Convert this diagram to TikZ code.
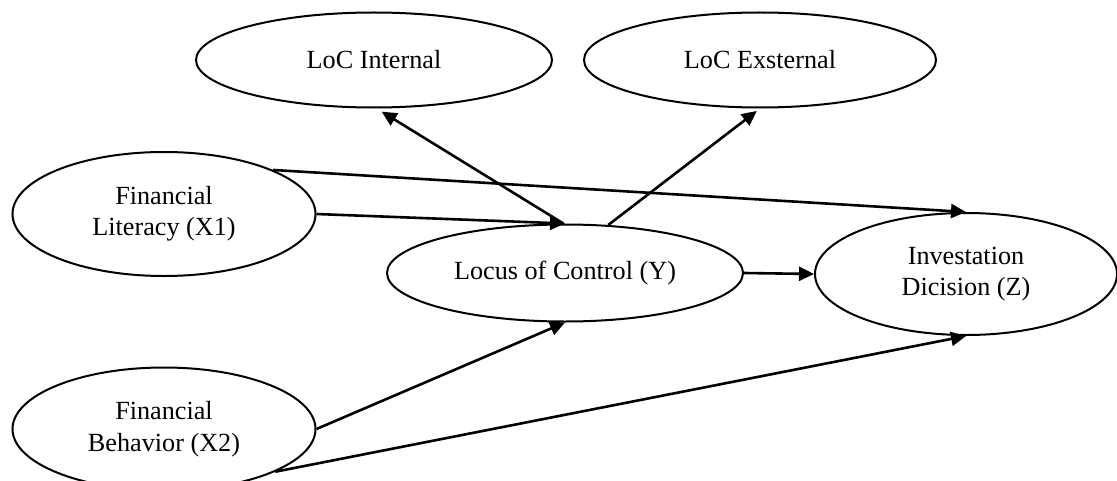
\documentclass[tikz,border=0pt]{standalone}
\usepackage{fontspec}
\setmainfont{Liberation Serif}
\usepackage{tikz}
\usetikzlibrary{arrows.meta}
\usetikzlibrary{shapes}
\usetikzlibrary{positioning}
\tikzstyle{construct}=[draw,ellipse,line width=1pt,inner sep=0pt,align=center,font=\fontsize{13.1}{15.7}\selectfont]
\tikzstyle{link}=[line width=1.3pt,-{Triangle[length=7.5pt,width=7pt]}]

\begin{document}
\begin{tikzpicture}[
  x=0.5pt,y=-0.5pt,
  flat/.style={construct,minimum width=178pt,minimum height=47.5pt},
  round/.style={construct,minimum width=151.5pt,minimum height=62pt},
]
\useasboundingbox (0,0) rectangle (1117,481);
  % dimensions
  \node[flat] (li) at (374,60) {LoC Internal};
  \node[flat,minimum width=176pt] (le) at (760,60) {LoC Exsternal};
  % predictors
  \node[round] (fl) at (164,214) {Financial\\Literacy (X1)};
  \node[round,minimum height=61.5pt] (fb) at (164,429) {Financial\\Behavior (X2)};
  % mediator and outcome
  \node[flat,minimum height=48.5pt] (lc) at (565,273) {Locus of Control (Y)};
  \node[round,minimum width=151pt,minimum height=61pt] (id) at (966,274) {Investation\\Dicision (Z)};

  \draw[link,shorten >=3pt] (lc.92) -- (li.-87);
  \draw[link,shorten >=2pt] (lc.48) -- (le.south);
  \draw[link] (fl.22) -- (id.north);
  \draw[link] (fl.east) -- (lc.north);
  \draw[link] (lc.east) -- (id.west);
  \draw[link] (fb.east) -- (lc.south);
  \draw[link] (fb.-21) -- (id.south);
\end{tikzpicture}
\end{document}
